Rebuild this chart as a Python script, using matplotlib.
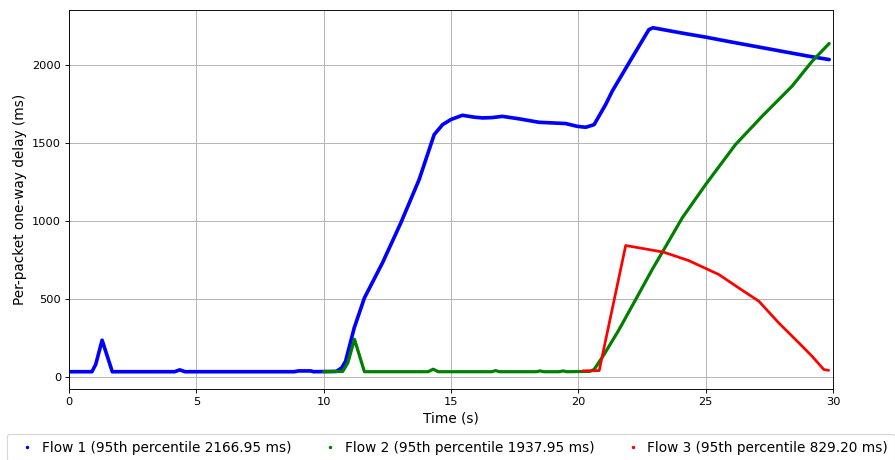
import matplotlib
matplotlib.use('Agg')
import matplotlib.pyplot as plt
from matplotlib.lines import Line2D

# flow 1 (blue)
t1 = [0, 0.9, 1.05, 1.3, 1.7, 4.15, 4.35, 4.55, 8.85, 9.0, 9.5, 9.6, 10.5,
      10.71, 10.86, 11.2, 11.6, 12.31, 13.03, 13.75, 14.34, 14.67, 15.0, 15.45,
      15.9, 16.24, 16.6, 17.02, 17.68, 18.46, 19.5, 19.96, 20.29, 20.62, 21.07,
      21.33, 21.99, 22.77, 22.93, 24.0, 25.0, 26.0, 27.0, 28.0, 29.0, 29.85]
d1 = [33, 33, 80, 235, 33, 33, 45, 33, 33, 38, 38, 33, 35,
      58, 100, 314, 506, 731, 987, 1265, 1553, 1617, 1650, 1677,
      1665, 1660, 1662, 1670, 1654, 1632, 1624, 1606, 1600, 1617, 1745,
      1831, 2013, 2226, 2238, 2206, 2178, 2147, 2117, 2087, 2057, 2034]

# flow 2 (green)
t2 = [10.0, 10.75, 10.95, 11.21, 11.6, 14.1, 14.3, 14.5, 16.6, 16.75, 16.9,
      18.35, 18.5, 18.65, 19.25, 19.4, 19.55, 20.45, 20.62, 21.01, 21.6,
      22.25, 22.9, 23.36, 24.08, 25.0, 26.17, 27.22, 28.39, 29.18, 29.85]
d2 = [33, 35, 90, 241, 33, 33, 49, 33, 33, 40, 33,
      33, 38, 33, 33, 38, 33, 35, 47, 143, 303,
      495, 688, 816, 1019, 1233, 1489, 1671, 1863, 2023, 2137]

# flow 3 (red)
t3 = [20.17, 20.82, 21.86, 22.64, 23.36, 24.34, 25.52, 26.3, 27.09, 27.87,
      28.66, 29.18, 29.64, 29.83]
d3 = [38, 40, 842, 820, 799, 745, 656, 570, 485, 346,
      218, 132, 47, 42]

labels = ['Flow 1 (95th percentile 2166.95 ms)',
          'Flow 2 (95th percentile 1937.95 ms)',
          'Flow 3 (95th percentile 829.20 ms)']
colors = ['blue', 'green', 'red']

fig = plt.figure(figsize=(895 / 82.0, 460 / 82.0), dpi=82)
ax = fig.add_axes([0.0771, 0.1543, 0.8536, 0.8240])

ax.plot(t1, d1, color='blue', lw=3.2, solid_joinstyle='round', solid_capstyle='round')
ax.plot(t2, d2, color='green', lw=2.8, solid_joinstyle='round', solid_capstyle='round')
ax.plot(t3, d3, color='red', lw=2.4, solid_joinstyle='round', solid_capstyle='round')

ax.set_xlim(0, 30)
ax.set_ylim(-78, 2352)
ax.set_xticks([0, 5, 10, 15, 20, 25, 30])
ax.set_yticks([0, 500, 1000, 1500, 2000])
ax.tick_params(labelsize=10)
ax.grid(True, color='#b0b0b0', lw=0.8)
ax.set_axisbelow(True)
ax.set_xlabel('Time (s)', fontsize=12)
ax.set_ylabel('Per-packet one-way delay (ms)', fontsize=12)

handles = [Line2D([], [], ls='None', marker='.', markersize=4, color=c) for c in colors]
ax.legend(handles, labels, loc='upper center', bbox_to_anchor=(0.5, -0.1),
          ncol=3, fontsize=12, handlelength=2.0, handletextpad=0.05,
          columnspacing=1.85, borderpad=0.5)

fig.savefig('out.png', dpi=82)
